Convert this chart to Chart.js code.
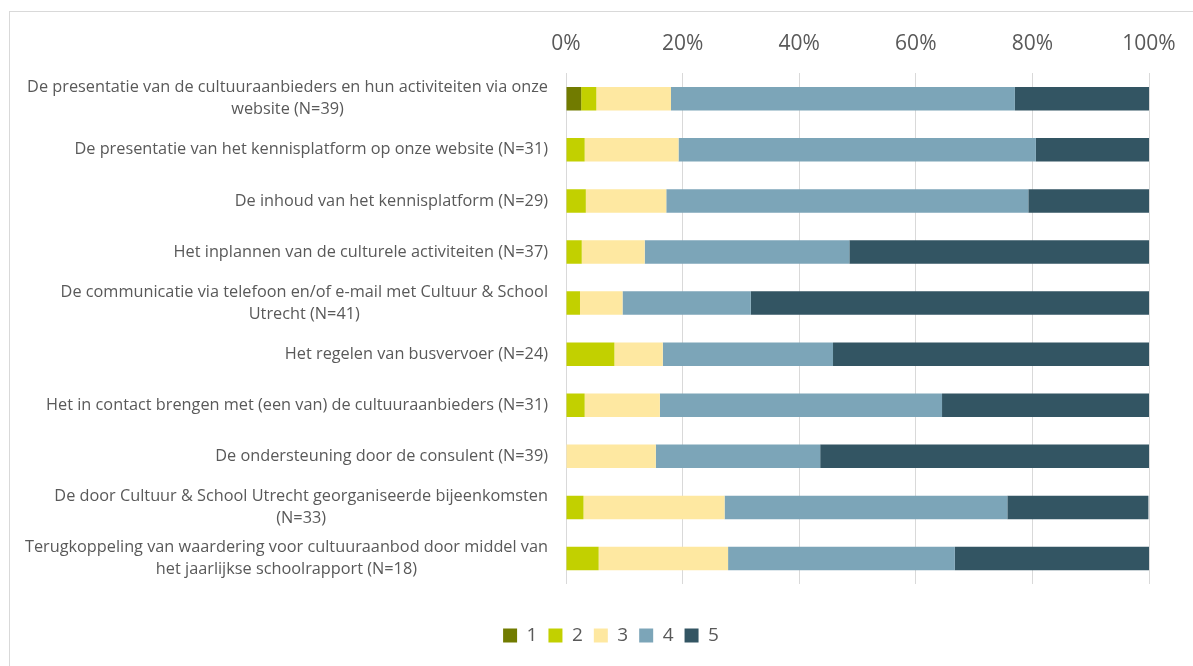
<!DOCTYPE html>
<html>
<head>
<meta charset="utf-8">
<script src="https://cdn.jsdelivr.net/npm/chart.js@4/dist/chart.umd.min.js"></script>
<style>
  html, body { margin: 0; padding: 0; background: #fff; overflow: hidden; }
  .frame { position: absolute; left: 9px; top: 11px; width: 1300px; height: 800px; border: 1px solid #d9d9d9; }
  .wrap { position: absolute; left: 0; top: 0; width: 1193px; height: 666px; }
</style>
</head>
<body>
<div class="frame"></div>
<div class="wrap"><canvas id="chart"></canvas></div>
<script>
const labels = [
  ['De presentatie van de cultuuraanbieders en hun activiteiten via onze', 'website (N=39)'],
  ['De presentatie van het kennisplatform op onze website (N=31)'],
  ['De inhoud van het kennisplatform (N=29)'],
  ['Het inplannen van de culturele activiteiten (N=37)'],
  ['De communicatie via telefoon en/of e-mail met Cultuur & School', 'Utrecht (N=41)'],
  ['Het regelen van busvervoer (N=24)'],
  ['Het in contact brengen met (een van) de cultuuraanbieders (N=31)'],
  ['De ondersteuning door de consulent (N=39)'],
  ['De door Cultuur & School Utrecht georganiseerde bijeenkomsten', '(N=33)'],
  ['Terugkoppeling van waardering voor cultuuraanbod door middel van', 'het jaarlijkse schoolrapport (N=18)']
]

const scores = ['1', '2', '3', '4', '5']
const colors = ['#717b00', '#c2d000', '#fee8a1', '#7ca5b8', '#335563']

// percentages per score
const score1 = [2.6, 0, 0, 0, 0, 0, 0, 0, 0, 0]
const score2 = [2.6, 3.2, 3.4, 2.7, 2.4, 8.3, 3.2, 0, 3.0, 5.6]
const score3 = [12.8, 16.1, 13.8, 10.8, 7.3, 8.3, 12.9, 15.4, 24.2, 22.2]
const score4 = [59.0, 61.3, 62.1, 35.1, 22.0, 29.2, 48.4, 28.2, 48.5, 38.9]
const score5 = [23.1, 19.4, 20.7, 51.4, 68.3, 54.2, 35.5, 56.4, 24.2, 33.3]

const xTicks = [0, 20, 40, 60, 80, 100]

const series = [score1, score2, score3, score4, score5]
const datasets = series.map((values, i) => ({
  label: scores[i],
  data: values,
  backgroundColor: colors[i],
  borderWidth: 0,
  barPercentage: 0.46,
  categoryPercentage: 1
}))

const labelFont = '16.3px "Open Sans"'
const textColor = '#595959'

// Excel-style category labels: block right-aligned, lines centered inside block
const categoryLabels = {
  id: 'categoryLabels',
  afterDraw (chart) {
    const { ctx, scales } = chart
    const yScale = scales.y
    const right = chart.chartArea.left - 18
    const lineHeight = 22
    ctx.save()
    ctx.font = labelFont
    ctx.fillStyle = textColor
    ctx.textAlign = 'center'
    ctx.textBaseline = 'middle'
    labels.forEach((lines, i) => {
      const widths = lines.map(l => ctx.measureText(l).width)
      const blockWidth = Math.max(...widths)
      const cx = right - blockWidth / 2
      const cy = yScale.getPixelForValue(i)
      const top = cy - (lines.length - 1) * lineHeight / 2
      lines.forEach((line, j) => {
        ctx.fillText(line, cx, top + j * lineHeight)
      })
    })
    ctx.restore()
  }
}

new Chart(document.querySelector('#chart'), {
  type: 'bar',
  data: {
    labels: labels.map(l => l.join(' ')),
    datasets
  },
  options: {
    indexAxis: 'y',
    responsive: true,
    maintainAspectRatio: false,
    animation: false,
    layout: {
      padding: { top: 14, right: 44, bottom: 11, left: 73 }
    },
    scales: {
      x: {
        position: 'top',
        stacked: true,
        min: 0,
        max: 100,
        afterBuildTicks: scale => {
          scale.ticks = xTicks.map(v => ({ value: v }))
        },
        grid: {
          color: '#d9d9d9',
          lineWidth: 1,
          drawTicks: false
        },
        border: { display: false },
        ticks: {
          padding: 17,
          color: textColor,
          font: { family: 'Open Sans', size: 21 },
          callback: v => v + '%'
        }
      },
      // empty spacer below the bars, keeps the legend apart
      spacer: {
        type: 'linear',
        axis: 'x',
        position: 'bottom',
        grid: { display: false },
        border: { display: false },
        ticks: { display: false },
        afterFit: scale => {
          scale.height = 31
        }
      },
      y: {
        stacked: true,
        grid: { display: false },
        border: { display: false },
        ticks: { display: false },
        afterFit: scale => {
          scale.width = 493
        }
      }
    },
    plugins: {
      legend: {
        position: 'bottom',
        labels: {
          boxWidth: 14,
          boxHeight: 14,
          padding: 11,
          color: textColor,
          font: { family: 'Open Sans', size: 19 }
        }
      },
      tooltip: { enabled: false }
    }
  },
  plugins: [categoryLabels]
})
</script>
</body>
</html>
